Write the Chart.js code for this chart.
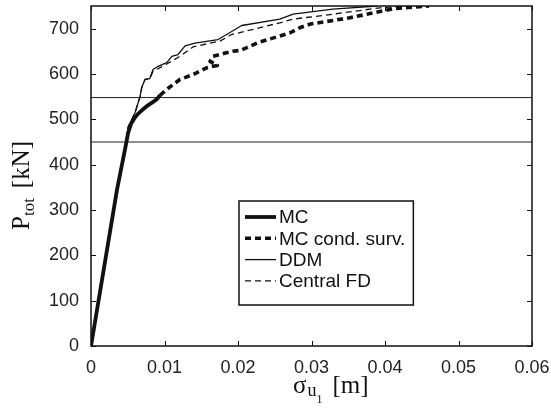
<!DOCTYPE html>
<html>
<head>
<meta charset="utf-8">
<script src="https://cdn.jsdelivr.net/npm/chart.js@4"></script>
<style>
  html, body { margin: 0; padding: 0; background: #fff; }
  #wrap { width: 551px; height: 408px; }
</style>
</head>
<body>
<div id="wrap"><canvas id="chart" width="551" height="408"></canvas></div>
<script>
// Curve data (sigma_u1 in m, P_tot in kN)
const mcX = [0, 0.00354, 0.00470, 0.00505, 0.00545, 0.00590, 0.00639, 0.00700, 0.00758, 0.00830, 0.00894, 0.00939];
const mcY = [0, 345, 440, 470, 490, 502, 512, 521, 529, 537, 544, 553];

const condX = [0.00939, 0.0103, 0.0121, 0.0139, 0.0153, 0.0158, 0.0172, 0.0162, 0.0166, 0.0180, 0.0193, 0.0203, 0.0212, 0.0227, 0.0257, 0.0271, 0.0284, 0.0298, 0.0352, 0.0397, 0.0411, 0.0460];
const condY = [553, 566, 588, 599, 610, 614, 619, 628, 639, 645, 650, 652, 658, 669, 684, 691, 702, 710, 724, 739, 744, 750];

const ddmX = [0, 0.00354, 0.00470, 0.00505, 0.0060, 0.00667, 0.0069, 0.00735, 0.0080, 0.00844, 0.00912, 0.0103, 0.0110, 0.01184, 0.0128, 0.01415, 0.01728, 0.01846, 0.0205, 0.0257, 0.0275, 0.0329, 0.0389];
const ddmY = [0, 345, 440, 483, 515, 550, 570, 588, 590, 610, 617, 625, 639, 643, 662, 668, 676, 687, 707, 721, 732, 743, 750];

const fdX = [0, 0.00354, 0.00470, 0.00505, 0.0060, 0.00667, 0.0069, 0.00735, 0.0080, 0.00844, 0.0094, 0.0103, 0.0121, 0.0139, 0.0176, 0.0191, 0.0212, 0.0257, 0.0275, 0.0329, 0.0393, 0.0430];
const fdY = [0, 345, 440, 483, 515, 550, 570, 588, 590, 606, 614, 622, 639, 660, 673, 687, 695, 713, 721, 732, 746, 750];

// horizontal reference levels
const refLevels = [548, 450];

const xTicks = [0, 0.01, 0.02, 0.03, 0.04, 0.05, 0.06];
const yTicks = [0, 100, 200, 300, 400, 500, 600, 700];

const seriesLabels = ["MC", "MC cond. surv.", "DDM", "Central FD"];

function toPoints(xs, ys) {
  return xs.map((x, i) => ({ x: x, y: ys[i] }));
}

const INK = "#111";

const datasets = [
  { label: seriesLabels[0], data: toPoints(mcX, mcY), borderColor: INK, borderWidth: 3.8, borderDash: [] },
  { label: seriesLabels[1], data: toPoints(condX, condY), borderColor: INK, borderWidth: 3.6, borderDash: [6, 4] },
  { label: seriesLabels[2], data: toPoints(ddmX, ddmY), borderColor: INK, borderWidth: 1.3, borderDash: [] },
  { label: seriesLabels[3], data: toPoints(fdX, fdY), borderColor: INK, borderWidth: 1.3, borderDash: [6, 4] },
];
refLevels.forEach((lv) => {
  datasets.push({
    label: "",
    data: toPoints([0, 0.06], [lv, lv]),
    borderColor: "#222",
    borderWidth: 1,
    borderDash: [],
  });
});
datasets.forEach((d) => {
  d.showLine = true;
  d.pointRadius = 0;
  d.fill = false;
  d.tension = 0;
  d.borderJoinStyle = "round";
});

// frame, inside ticks, axis titles with subscripts and legend box
const decorations = {
  id: "decorations",
  afterDraw(chart) {
    const ctx = chart.ctx;
    const a = chart.chartArea;
    const xs = chart.scales.x;
    const ys = chart.scales.y;
    ctx.save();
    ctx.strokeStyle = INK;
    ctx.lineWidth = 1.5;
    ctx.setLineDash([]);
    ctx.strokeRect(a.left, a.top, a.right - a.left, a.bottom - a.top);

    ctx.lineWidth = 1;
    ctx.beginPath();
    xTicks.forEach((v) => {
      const px = Math.round(xs.getPixelForValue(v)) + 0.5;
      ctx.moveTo(px, a.bottom); ctx.lineTo(px, a.bottom - 5);
      ctx.moveTo(px, a.top); ctx.lineTo(px, a.top + 5);
    });
    yTicks.forEach((v) => {
      const py = Math.round(ys.getPixelForValue(v)) + 0.5;
      ctx.moveTo(a.left, py); ctx.lineTo(a.left + 5, py);
      ctx.moveTo(a.right, py); ctx.lineTo(a.right - 5, py);
    });
    ctx.stroke();

    // y title: P_tot [kN]
    ctx.fillStyle = INK;
    ctx.textBaseline = "alphabetic";
    ctx.textAlign = "left";
    ctx.save();
    ctx.translate(29, (a.top + a.bottom) / 2);
    ctx.rotate(-Math.PI / 2);
    let u = -54;
    ctx.font = "25px 'Liberation Serif'";
    ctx.fillText("P", u, 0);
    u += ctx.measureText("P").width;
    ctx.font = "17px 'Liberation Serif'";
    ctx.fillText("tot", u, 5);
    u += ctx.measureText("tot").width + 10;
    ctx.font = "25px 'Liberation Serif'";
    ctx.fillText("[kN]", u, 0);
    ctx.restore();

    // x title: sigma_u1 [m]
    let x = 293;
    const base = 393;
    ctx.font = "25px 'Liberation Serif'";
    ctx.fillText("\u03c3", x, base);
    x += ctx.measureText("\u03c3").width + 1;
    ctx.font = "18px 'Liberation Serif'";
    ctx.fillText("u", x, base + 3);
    x += ctx.measureText("u").width;
    ctx.font = "12px 'Liberation Serif'";
    ctx.fillText("1", x, base + 10);
    x += ctx.measureText("1").width + 10;
    ctx.font = "25px 'Liberation Serif'";
    ctx.fillText("[m]", x, base);

    // legend
    const lx = 239, ly = 201, rowH = 21.3, textX = 279;
    ctx.font = "19px 'Liberation Sans'";
    let maxW = 0;
    seriesLabels.forEach((s) => { maxW = Math.max(maxW, ctx.measureText(s).width); });
    const lw = textX + maxW + 8 - lx;
    const lh = 104;
    ctx.fillStyle = "#fff";
    ctx.fillRect(lx, ly, lw, lh);
    ctx.strokeStyle = INK;
    ctx.lineWidth = 1.5;
    ctx.strokeRect(lx, ly, lw, lh);
    ctx.textBaseline = "middle";
    for (let i = 0; i < 4; i++) {
      const ds = chart.data.datasets[i];
      const yy = ly + 16 + i * rowH;
      ctx.beginPath();
      ctx.lineWidth = ds.borderWidth;
      ctx.setLineDash(ds.borderDash);
      ctx.moveTo(245, yy);
      ctx.lineTo(276, yy);
      ctx.stroke();
      ctx.setLineDash([]);
      ctx.fillStyle = INK;
      ctx.fillText(ds.label, textX, yy + 1);
    }
    ctx.restore();
  },
};

new Chart(document.getElementById("chart"), {
  type: "scatter",
  data: { datasets: datasets },
  options: {
    responsive: false,
    animation: false,
    layout: { padding: { left: 0, top: 6, right: 19, bottom: 0 } },
    plugins: { legend: { display: false }, tooltip: { enabled: false } },
    scales: {
      x: {
        type: "linear",
        min: 0,
        max: 0.06,
        grid: { display: false },
        border: { display: false },
        afterBuildTicks: (s) => { s.ticks = xTicks.map((v) => ({ value: v })); },
        afterFit: (s) => { s.height = 62; s.paddingLeft = 0; s.paddingRight = 0; },
        ticks: {
          color: "#222",
          font: { family: "'Liberation Sans'", size: 18 },
          padding: 3,
          maxRotation: 0,
          callback: (v) => (v === 0 ? "0" : v.toFixed(2)),
        },
      },
      y: {
        type: "linear",
        min: 0,
        max: 750,
        grid: { display: false },
        border: { display: false },
        afterBuildTicks: (s) => { s.ticks = yTicks.map((v) => ({ value: v })); },
        afterFit: (s) => { s.width = 91; s.paddingTop = 0; s.paddingBottom = 0; },
        ticks: {
          color: "#222",
          font: { family: "'Liberation Sans'", size: 18 },
          padding: 4,
          callback: (v) => String(v),
        },
      },
    },
  },
  plugins: [decorations],
});
</script>
</body>
</html>
